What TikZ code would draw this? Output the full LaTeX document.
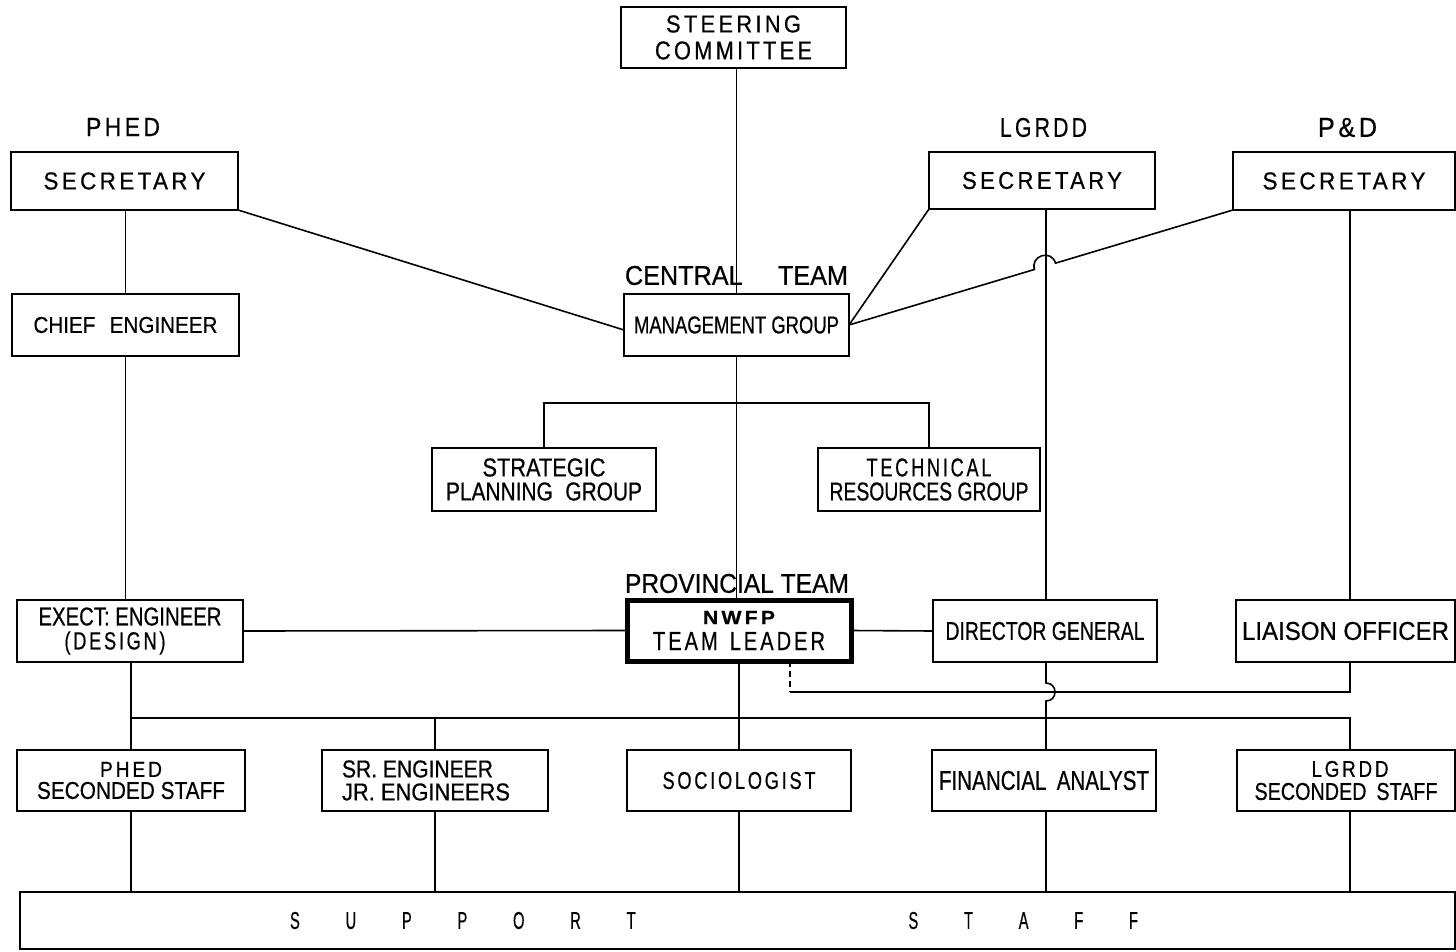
\documentclass[tikz,border=0pt]{standalone}
\usepackage{fontspec}
\usepackage{graphicx}
\setmainfont{Liberation Sans}[FakeBold=0.6]
\newfontfamily\spf{Liberation Sans}[LetterSpace=15,FakeBold=0.6]
\usetikzlibrary{calc}
\newcommand\rt[3]{\resizebox{#1pt}{#2pt}{#3}}
\newcommand\rs[3]{\resizebox{#1pt}{#2pt}{\spf #3}}
\begin{document}
\begin{tikzpicture}[x=1pt,y=-1pt,
  box/.style={draw, line width=2.9pt, inner sep=0pt, outer sep=0pt, align=center},
  thickbox/.style={box, line width=5pt},
  conn/.style={line width=1.6pt},
  lbl/.style={inner sep=0pt, outer sep=0pt},
  ls/.style={font=\fontsize{10}{#1}\selectfont}]
\useasboundingbox (0,0) rectangle (1456,952);
\fill[white] (0,0) rectangle (1456,952);

% labels
\node[lbl] (phedl) at (123,127) {\rs{74}{18}{PHED}};
\node[lbl] (lgrddl) at (1043.5,127.5) {\rs{87}{19}{LGRDD}};
\node[lbl] (pdl) at (1347.5,127.5) {\rs{59}{19}{P\&D}};
\node[lbl] (centl) at (736.5,275.5) {\rt{223}{19}{CENTRAL\hspace{1.4em}TEAM}};
\node[lbl] (provl) at (737,583.5) {\rt{224}{19}{PROVINCIAL TEAM}};

% boxes
\node[box, minimum width=225pt, minimum height=61pt, ls=27] (steer) at (733.5,37.5)
  {\rs{135}{17}{STEERING}\\\rs{157}{18}{COMMITTEE}};
\node[box, minimum width=227pt, minimum height=58pt] (sec1) at (124.5,181) {\rs{162}{17}{SECRETARY}};
\node[box, minimum width=226pt, minimum height=57pt] (sec2) at (1042,180.5) {\rs{160}{17}{SECRETARY}};
\node[box, minimum width=222pt, minimum height=58pt] (sec3) at (1344,181) {\rs{163}{17}{SECRETARY}};
\node[box, minimum width=227pt, minimum height=62pt] (chief) at (125.5,325) {\rt{184}{16}{CHIEF\hspace{0.7em}ENGINEER}};
\node[box, minimum width=225pt, minimum height=62pt] (mgmt) at (736.5,325) {\rt{205}{17}{MANAGEMENT GROUP}};
\node[box, minimum width=224pt, minimum height=63pt, ls=24] (strat) at (544,479.5)
  {\rt{123}{18}{STRATEGIC}\\\rt{196}{18}{PLANNING\hspace{0.6em}GROUP}};
\node[box, minimum width=222pt, minimum height=63pt, ls=24] (tech) at (929,479.5)
  {\rs{125}{18}{TECHNICAL}\\\rt{199}{18}{RESOURCES GROUP}};
\node[thickbox, minimum width=224pt, minimum height=61pt, ls=26] (lead) at (739,630.5)
  {\rs{72}{13}{\bfseries NWFP}\\\rs{172}{18}{TEAM\hspace{0.6em}LEADER}};
\node[box, minimum width=226pt, minimum height=62pt, ls=24] (exect) at (130,631)
  {\makebox[183pt][l]{\rt{183}{18}{EXECT: ENGINEER}}\\\makebox[183pt][l]{\hspace{26pt}\rs{101}{18}{(DESIGN)}}};
\node[box, minimum width=224pt, minimum height=62pt] (dg) at (1045,631) {\rt{199}{18}{DIRECTOR GENERAL}};
\node[box, minimum width=219pt, minimum height=62pt] (liaison) at (1345.5,631) {\rt{207}{18}{LIAISON OFFICER}};
\node[box, minimum width=228pt, minimum height=61pt, ls=22] (phs) at (131,780.5)
  {\rs{62}{15}{PHED}\\\rt{188}{17}{SECONDED STAFF}};
\node[box, minimum width=226pt, minimum height=61pt, ls=23] (sr) at (435,780.5)
  {\makebox[186pt][l]{\rt{151}{17}{SR. ENGINEER}}\\\makebox[186pt][l]{\rt{168}{17}{JR. ENGINEERS}}};
\node[box, minimum width=224pt, minimum height=61pt] (soc) at (739,780.5) {\rs{153}{17}{SOCIOLOGIST}};
\node[box, minimum width=224pt, minimum height=61pt] (fin) at (1044,780.5) {\rt{210}{19}{FINANCIAL\hspace{0.5em}ANALYST}};
\node[box, minimum width=218pt, minimum height=61pt, ls=23] (lgs) at (1346,780.5)
  {\makebox[183pt][l]{\hspace{57pt}\rs{77}{16}{LGRDD}}\\\rt{183}{17}{SECONDED\hspace{0.5em}STAFF}};
\node[box, minimum width=1435pt, minimum height=57pt] (support) at (737.5,920.5)
  {\makebox[895pt][l]{\rt{848}{17}{S\hspace{3.1em}U\hspace{3.1em}P\hspace{3.1em}P\hspace{3.1em}O\hspace{3.1em}R\hspace{3.1em}T\hspace{18.5em}S\hspace{3.1em}T\hspace{3.1em}A\hspace{3.1em}F\hspace{3.1em}F}}};

% helper coordinates
\coordinate (lgx) at (1046,0);
\coordinate (pdx) at (1350,0);
\coordinate (bus) at (0,718);
\coordinate (brk) at (737,403);
\coordinate (dx) at (790,692);
\coordinate (h1) at (1046,683);
\coordinate (h2) at (1046,701);

% central spine
\draw[conn] (mgmt.north |- steer.south) -- (mgmt.north);
\draw[conn] (mgmt.south) -- (mgmt.south |- lead.north);
\draw[conn] (lead.south) -- (soc.north);
\draw[conn] (soc.south) -- (soc.south |- support.north);

% PHED column
\draw[conn] (chief.north |- sec1.south) -- (chief.north);
\draw[conn] (chief.south) -- (chief.south |- exect.north);
\draw[conn] (phs.north |- exect.south) -- (phs.north);
\draw[conn] (phs.south) -- (phs.south |- support.north);

% bus to staff
\draw[conn] (phs.north |- bus) -- (pdx |- bus) -- (pdx |- lgs.north);
\draw[conn] (sr.north |- bus) -- (sr.north);
\draw[conn] (sr.south) -- (sr.south |- support.north);

% LGRDD column
\draw[conn] (lgx |- sec2.south) -- (lgx |- dg.north);
\draw[conn] (lgx |- dg.south) -- (h1) .. controls ($(h1)+(12,0)$) and ($(h2)+(12,0)$) .. (h2) -- (lgx |- fin.north);
\draw[conn] (lgx |- fin.south) -- (lgx |- support.north);

% P&D column
\draw[conn] (pdx |- sec3.south) -- (pdx |- liaison.north);
\draw[conn] (pdx |- lgs.south) -- (pdx |- support.north);

% dashed link team leader -> liaison officer
\draw[conn, dash pattern=on 6pt off 4pt] (lead.south -| dx) -- (dx);
\draw[conn] (dx) -- (pdx |- dx) -- (pdx |- liaison.south);

% horizontals at provincial level
\draw[conn] (exect.east) -- (lead.west);
\draw[conn] (lead.east) -- (dg.west);

% bracket to groups
\draw[conn] (strat.north) |- (brk) -| (tech.north);

% diagonals to management group
\draw[conn] (sec1.south east) -- ($(mgmt.west)+(0,5)$);
\draw[conn] (sec2.south west) -- (mgmt.east);
\coordinate (hc) at ($(mgmt.east)!0.5104!(sec3.south west)$);
\coordinate (ha) at ($(hc)!11pt!(mgmt.east)$);
\coordinate (hb) at ($(hc)!11pt!(sec3.south west)$);
\draw[conn] (sec3.south west) -- (hb) .. controls ($(hb)+(-4.2,-14.1)$) and ($(ha)+(-4.2,-14.1)$) .. (ha) -- (mgmt.east);
\end{tikzpicture}
\end{document}
